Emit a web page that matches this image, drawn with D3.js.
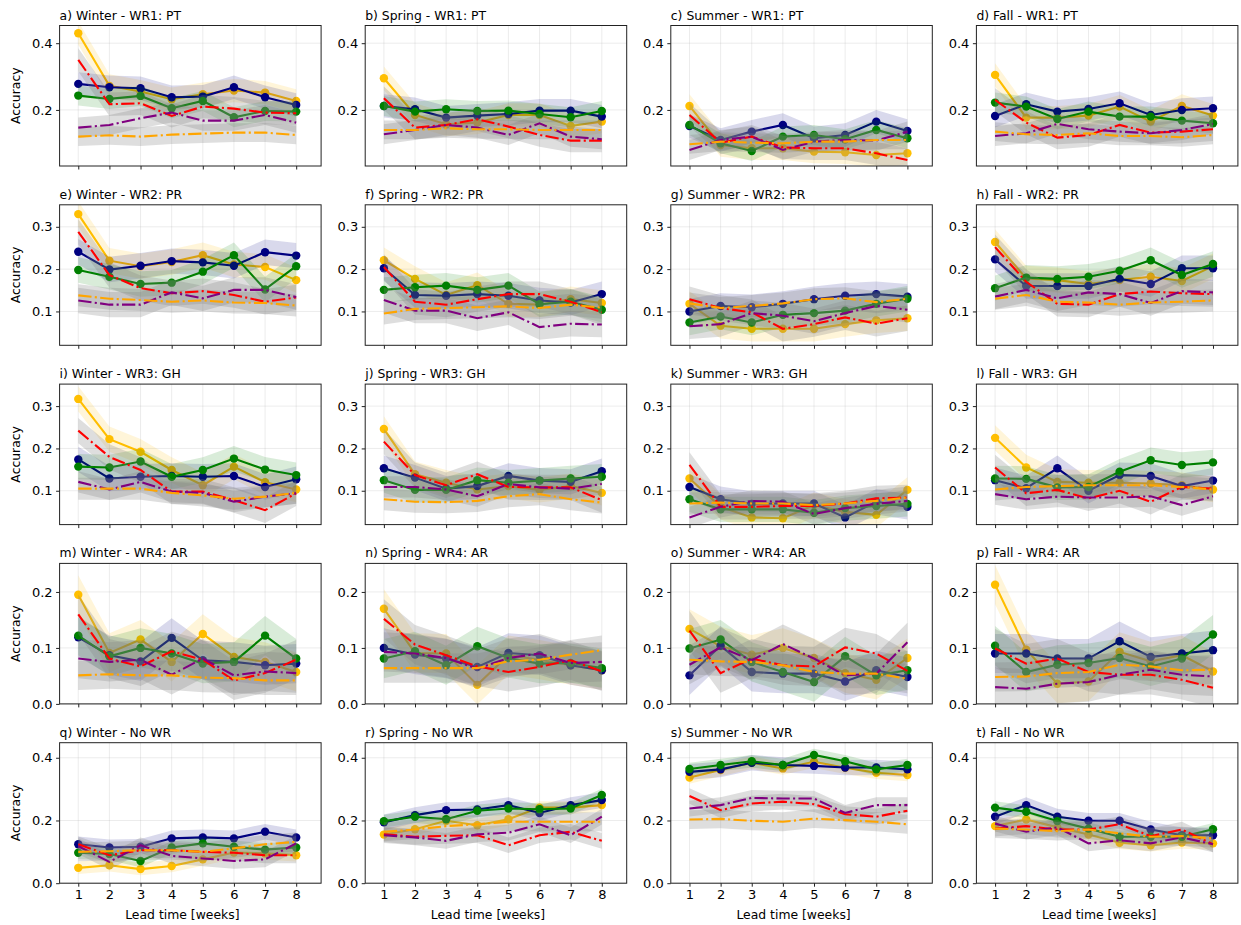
<!DOCTYPE html>
<html>
<head>
<meta charset="utf-8">
<script src="https://cdn.jsdelivr.net/npm/d3@7"></script>
<style>
  body { margin: 0; background: #fff; }
  text { font-family: "DejaVu Sans", sans-serif; fill: #000; }
</style>
</head>
<body>
<div id="chart"></div>
<script>
// # Panel labels / axes.
const seasons = ['Winter', 'Spring', 'Summer', 'Fall']
const regimes = ['WR1: PT', 'WR2: PR', 'WR3: GH', 'WR4: AR', 'No WR']
const letters = 'abcdefghijklmnopqrst'.split('')
const weeks = [1, 2, 3, 4, 5, 6, 7, 8]
const yLims = [[0.032, 0.453], [0.02, 0.352], [0.02, 0.352], [0, 0.251], [0, 0.448]]
const yTicks = [[0.2, 0.4], [0.1, 0.2, 0.3], [0.1, 0.2, 0.3], [0, 0.1, 0.2], [0, 0.2, 0.4]]

// # Accuracy per panel (a..t, row major), one array per series.
const gold = [
  [0.43,0.272,0.255,0.232,0.247,0.258,0.252,0.227],
  [0.295,0.185,0.157,0.162,0.185,0.185,0.152,0.165],
  [0.212,0.095,0.085,0.085,0.075,0.073,0.065,0.07],
  [0.305,0.177,0.177,0.183,0.21,0.165,0.212,0.183],
  [0.33,0.22,0.207,0.217,0.233,0.211,0.205,0.174],
  [0.221,0.177,0.139,0.162,0.118,0.116,0.129,0.12],
  [0.118,0.066,0.059,0.059,0.059,0.07,0.079,0.084],
  [0.264,0.178,0.174,0.165,0.174,0.182,0.172,0.207],
  [0.317,0.222,0.192,0.149,0.113,0.157,0.12,0.103],
  [0.246,0.139,0.119,0.103,0.111,0.102,0.111,0.095],
  [0.129,0.062,0.037,0.035,0.066,0.05,0.043,0.102],
  [0.225,0.155,0.121,0.119,0.119,0.117,0.113,0.103],
  [0.195,0.091,0.115,0.075,0.125,0.084,0.075,0.057],
  [0.17,0.091,0.09,0.034,0.087,0.079,0.069,0.06],
  [0.134,0.103,0.088,0.1,0.082,0.055,0.043,0.082],
  [0.213,0.097,0.036,0.04,0.093,0.076,0.087,0.058],
  [0.049,0.057,0.045,0.055,0.076,0.098,0.095,0.089],
  [0.155,0.172,0.199,0.185,0.204,0.241,0.241,0.249],
  [0.337,0.361,0.384,0.366,0.387,0.368,0.352,0.345],
  [0.182,0.203,0.178,0.155,0.129,0.121,0.13,0.127]
]
const navy = [
  [0.278,0.268,0.265,0.238,0.24,0.268,0.238,0.215],
  [0.212,0.202,0.177,0.183,0.188,0.198,0.198,0.18],
  [0.152,0.11,0.135,0.155,0.115,0.125,0.165,0.137],
  [0.182,0.217,0.195,0.203,0.22,0.185,0.2,0.205],
  [0.241,0.199,0.208,0.219,0.216,0.208,0.24,0.232],
  [0.202,0.139,0.137,0.141,0.137,0.126,0.121,0.141],
  [0.1,0.113,0.11,0.118,0.129,0.137,0.141,0.135],
  [0.223,0.16,0.16,0.16,0.177,0.165,0.202,0.202],
  [0.174,0.129,0.133,0.135,0.133,0.135,0.109,0.127],
  [0.153,0.131,0.105,0.111,0.135,0.124,0.121,0.146],
  [0.109,0.08,0.069,0.07,0.07,0.037,0.074,0.062],
  [0.125,0.106,0.153,0.1,0.137,0.135,0.111,0.124],
  [0.119,0.087,0.076,0.118,0.078,0.075,0.069,0.072],
  [0.1,0.088,0.081,0.066,0.091,0.087,0.069,0.06],
  [0.051,0.104,0.057,0.054,0.054,0.04,0.06,0.048],
  [0.09,0.09,0.081,0.081,0.112,0.084,0.09,0.096],
  [0.124,0.114,0.116,0.143,0.146,0.143,0.164,0.146],
  [0.194,0.217,0.233,0.235,0.249,0.224,0.249,0.265],
  [0.355,0.363,0.384,0.377,0.374,0.369,0.369,0.363],
  [0.212,0.249,0.212,0.199,0.199,0.171,0.153,0.153]
]
const green = [
  [0.243,0.233,0.242,0.205,0.227,0.178,0.197,0.195],
  [0.212,0.195,0.202,0.197,0.198,0.188,0.178,0.197],
  [0.155,0.1,0.077,0.12,0.125,0.112,0.14,0.115],
  [0.222,0.21,0.173,0.195,0.18,0.18,0.168,0.16],
  [0.198,0.182,0.165,0.168,0.194,0.233,0.152,0.207],
  [0.151,0.157,0.161,0.151,0.161,0.117,0.123,0.104],
  [0.074,0.088,0.074,0.092,0.096,0.102,0.118,0.13],
  [0.155,0.18,0.177,0.182,0.196,0.221,0.186,0.212],
  [0.157,0.155,0.169,0.133,0.149,0.176,0.15,0.137],
  [0.125,0.102,0.102,0.125,0.119,0.124,0.129,0.133],
  [0.08,0.056,0.056,0.056,0.048,0.059,0.064,0.069],
  [0.129,0.128,0.108,0.109,0.145,0.172,0.161,0.167],
  [0.122,0.085,0.1,0.09,0.072,0.075,0.122,0.081],
  [0.081,0.094,0.069,0.103,0.082,0.072,0.073,0.064],
  [0.099,0.115,0.075,0.057,0.039,0.085,0.051,0.06],
  [0.104,0.057,0.07,0.073,0.082,0.067,0.081,0.124],
  [0.097,0.093,0.071,0.114,0.127,0.116,0.107,0.114],
  [0.198,0.212,0.204,0.231,0.238,0.236,0.238,0.281],
  [0.364,0.377,0.389,0.377,0.409,0.389,0.363,0.377],
  [0.241,0.228,0.198,0.174,0.148,0.148,0.148,0.172]
]
const red = [
  [0.35,0.217,0.22,0.182,0.21,0.204,0.192,0.19],
  [0.235,0.147,0.155,0.172,0.15,0.125,0.108,0.108],
  [0.185,0.102,0.12,0.088,0.085,0.085,0.07,0.05],
  [0.23,0.162,0.117,0.125,0.155,0.132,0.135,0.142],
  [0.288,0.186,0.155,0.143,0.148,0.139,0.123,0.133],
  [0.205,0.123,0.116,0.129,0.141,0.141,0.123,0.098],
  [0.129,0.108,0.098,0.059,0.07,0.086,0.071,0.084],
  [0.252,0.17,0.118,0.116,0.141,0.147,0.143,0.141],
  [0.242,0.18,0.149,0.098,0.098,0.078,0.054,0.094],
  [0.216,0.137,0.113,0.139,0.109,0.108,0.108,0.078],
  [0.161,0.062,0.062,0.064,0.064,0.07,0.082,0.084],
  [0.155,0.094,0.102,0.082,0.1,0.074,0.109,0.105],
  [0.16,0.081,0.067,0.094,0.079,0.042,0.055,0.079],
  [0.152,0.106,0.087,0.067,0.057,0.066,0.078,0.058],
  [0.131,0.055,0.081,0.069,0.067,0.101,0.09,0.059],
  [0.099,0.072,0.081,0.057,0.052,0.052,0.043,0.029],
  [0.124,0.089,0.105,0.105,0.1,0.097,0.089,0.089],
  [0.156,0.148,0.151,0.153,0.121,0.153,0.164,0.135],
  [0.278,0.233,0.254,0.26,0.252,0.22,0.212,0.231],
  [0.174,0.182,0.171,0.171,0.188,0.15,0.171,0.124]
]
const purple = [
  [0.147,0.155,0.175,0.192,0.168,0.168,0.185,0.162],
  [0.127,0.14,0.155,0.147,0.125,0.16,0.12,0.112],
  [0.08,0.11,0.12,0.08,0.105,0.11,0.108,0.135],
  [0.122,0.13,0.158,0.142,0.135,0.13,0.14,0.158],
  [0.126,0.116,0.116,0.145,0.131,0.151,0.151,0.134],
  [0.127,0.102,0.102,0.084,0.098,0.063,0.071,0.069],
  [0.065,0.07,0.096,0.09,0.077,0.096,0.113,0.104],
  [0.135,0.151,0.131,0.145,0.141,0.12,0.148,0.145],
  [0.121,0.103,0.121,0.098,0.095,0.074,0.086,0.094],
  [0.109,0.109,0.103,0.087,0.116,0.108,0.105,0.116],
  [0.037,0.062,0.076,0.074,0.045,0.059,0.069,0.076],
  [0.092,0.08,0.086,0.084,0.084,0.087,0.066,0.087],
  [0.081,0.075,0.079,0.052,0.081,0.051,0.058,0.055],
  [0.093,0.09,0.082,0.063,0.082,0.09,0.073,0.075],
  [0.07,0.101,0.078,0.107,0.081,0.051,0.054,0.11],
  [0.03,0.027,0.036,0.039,0.052,0.061,0.052,0.049],
  [0.118,0.068,0.121,0.087,0.079,0.071,0.076,0.127],
  [0.153,0.146,0.135,0.156,0.161,0.188,0.153,0.212],
  [0.238,0.249,0.272,0.27,0.27,0.224,0.249,0.249],
  [0.19,0.164,0.178,0.127,0.137,0.127,0.146,0.124]
]
const orange = [
  [0.12,0.124,0.12,0.126,0.129,0.132,0.132,0.125],
  [0.14,0.14,0.145,0.142,0.142,0.14,0.14,0.14],
  [0.097,0.105,0.102,0.1,0.105,0.105,0.11,0.11],
  [0.135,0.127,0.125,0.13,0.122,0.122,0.118,0.125],
  [0.138,0.13,0.127,0.123,0.126,0.121,0.12,0.114],
  [0.095,0.106,0.108,0.11,0.112,0.108,0.116,0.109],
  [0.119,0.108,0.113,0.119,0.129,0.131,0.122,0.13],
  [0.13,0.139,0.123,0.121,0.116,0.121,0.123,0.126],
  [0.105,0.105,0.105,0.095,0.089,0.081,0.086,0.095],
  [0.08,0.074,0.073,0.076,0.087,0.092,0.08,0.072],
  [0.07,0.072,0.07,0.07,0.066,0.07,0.076,0.084],
  [0.103,0.109,0.111,0.113,0.113,0.113,0.109,0.103],
  [0.051,0.053,0.051,0.051,0.047,0.046,0.042,0.042],
  [0.064,0.064,0.064,0.064,0.076,0.079,0.088,0.096],
  [0.079,0.076,0.075,0.069,0.057,0.054,0.054,0.045],
  [0.048,0.049,0.055,0.057,0.07,0.067,0.06,0.061],
  [0.1,0.102,0.105,0.105,0.1,0.111,0.124,0.132],
  [0.164,0.171,0.182,0.188,0.196,0.196,0.196,0.196],
  [0.203,0.205,0.199,0.196,0.206,0.201,0.196,0.188],
  [0.174,0.171,0.166,0.171,0.159,0.148,0.15,0.143]
]
// # Half width of the shaded range per row: gold, navy, green, red, purple, orange.
const spread = [
  [0.035, 0.035, 0.03, 0.035, 0.03, 0.028],
  [0.03, 0.03, 0.03, 0.03, 0.03, 0.026],
  [0.03, 0.03, 0.03, 0.03, 0.025, 0.026],
  [0.035, 0.035, 0.035, 0.035, 0.035, 0.026],
  [0.02, 0.025, 0.02, 0.025, 0.025, 0.03]
]

const series = [
  {vals: gold,   color: '#ffbf00', band: '#ffbf00', op: 0.15, solid: true},
  {vals: navy,   color: '#000080', band: '#000080', op: 0.15, solid: true},
  {vals: green,  color: '#008000', band: '#008000', op: 0.15, solid: true},
  {vals: red,    color: '#ff0000', band: '#808080', op: 0.26, solid: false},
  {vals: purple, color: '#800080', band: '#808080', op: 0.26, solid: false},
  {vals: orange, color: '#ffa500', band: '#808080', op: 0.26, solid: false}
]

// # Layout.
const W = 1241, H = 925
const colLeft = [59.6, 365.2, 670.8, 976.4], pw = 261.5
const rowTop = [25.5, 204.8, 384.1, 563.4, 742.7], ph = 140.5
const font = '"DejaVu Sans", sans-serif'

const svg = d3.select('#chart').append('svg')
    .attr('width', W).attr('height', H)
svg.append('rect').attr('width', W).attr('height', H).attr('fill', '#fff')

const defs = svg.append('defs')

for (let r = 0; r < 5; r++) {
  for (let c = 0; c < 4; c++) {
    const p = r * 4 + c
    const x0 = colLeft[c], y0 = rowTop[r]
    const x = d3.scaleLinear().domain([0.4, 8.8]).range([x0, x0 + pw])
    const y = d3.scaleLinear().domain(yLims[r]).range([y0 + ph, y0])
    const g = svg.append('g')

    defs.append('clipPath').attr('id', 'clip' + p)
      .append('rect').attr('x', x0).attr('y', y0).attr('width', pw).attr('height', ph)

    // grid
    g.append('g').selectAll('line').data(weeks).enter().append('line')
        .attr('x1', d => x(d)).attr('x2', d => x(d))
        .attr('y1', y0).attr('y2', y0 + ph)
        .attr('stroke', '#b0b0b0').attr('stroke-opacity', 0.3).attr('stroke-width', 0.8)
    g.append('g').selectAll('line').data(yTicks[r]).enter().append('line')
        .attr('x1', x0).attr('x2', x0 + pw)
        .attr('y1', d => y(d)).attr('y2', d => y(d))
        .attr('stroke', '#b0b0b0').attr('stroke-opacity', 0.3).attr('stroke-width', 0.8)

    const plot = g.append('g').attr('clip-path', `url(#clip${p})`)
    const line = d3.line().x((d, i) => x(weeks[i])).y(d => y(d))
    const band = sp => d3.area()
        .x((d, i) => x(weeks[i]))
        .y0(d => y(d - sp)).y1(d => y(d + sp))

    // solid series: line, markers, then their shading
    series.forEach((s, k) => {
      if (!s.solid) return
      const v = s.vals[p]
      plot.append('path').datum(v)
          .attr('d', line).attr('fill', 'none')
          .attr('stroke', s.color).attr('stroke-width', 2.1)
      plot.append('g').selectAll('circle').data(v).enter().append('circle')
          .attr('cx', (d, i) => x(weeks[i])).attr('cy', d => y(d))
          .attr('r', 4.2).attr('fill', s.color)
      plot.append('path').datum(v)
          .attr('d', band(spread[r][k]))
          .attr('fill', s.band).attr('fill-opacity', s.op)
    })
    // grey shading for the reference series, then their dash-dot lines on top
    series.forEach((s, k) => {
      if (s.solid) return
      plot.append('path').datum(s.vals[p])
          .attr('d', band(spread[r][k]))
          .attr('fill', s.band).attr('fill-opacity', s.op)
    })
    series.forEach(s => {
      if (s.solid) return
      plot.append('path').datum(s.vals[p])
          .attr('d', line).attr('fill', 'none')
          .attr('stroke', s.color).attr('stroke-width', 2.1)
          .attr('stroke-dasharray', '13.3,3.3,2.1,3.3')
    })

    // frame
    g.append('rect').attr('x', x0).attr('y', y0).attr('width', pw).attr('height', ph)
        .attr('fill', 'none').attr('stroke', '#222').attr('stroke-width', 1)

    // axes
    const xAxis = d3.axisBottom(x).tickValues(weeks).tickSizeOuter(0).tickSize(3.5).tickPadding(3.5)
    const ax = g.append('g').attr('transform', `translate(0,${y0 + ph})`).call(xAxis)
    ax.select('.domain').remove()
    ax.selectAll('line').attr('stroke', '#222')
    ax.selectAll('text').attr('font-size', 13).attr('font-family', font)
    if (r < 4) ax.selectAll('text').remove()

    const yAxis = d3.axisLeft(y).tickValues(yTicks[r]).tickFormat(d3.format('.1f'))
        .tickSizeOuter(0).tickSize(3.5).tickPadding(3.5)
    const ay = g.append('g').attr('transform', `translate(${x0},0)`).call(yAxis)
    ay.select('.domain').remove()
    ay.selectAll('line').attr('stroke', '#222')
    ay.selectAll('text').attr('font-size', 13).attr('font-family', font)

    // title
    g.append('text')
        .attr('x', x0).attr('y', y0 - 6)
        .attr('font-size', 12.4)
        .text(`${letters[p]}) ${seasons[c]} - ${regimes[r]}`)

    if (c === 0) {
      g.append('text')
          .attr('transform', `translate(20,${y0 + ph / 2}) rotate(-90)`)
          .attr('text-anchor', 'middle')
          .attr('font-size', 12.4)
          .text('Accuracy')
    }
    if (r === 4) {
      g.append('text')
          .attr('x', x0 + pw / 2 - 8).attr('y', y0 + ph + 36)
          .attr('text-anchor', 'middle')
          .attr('font-size', 12.4)
          .text('Lead time [weeks]')
    }
  }
}
</script>
</body>
</html>
